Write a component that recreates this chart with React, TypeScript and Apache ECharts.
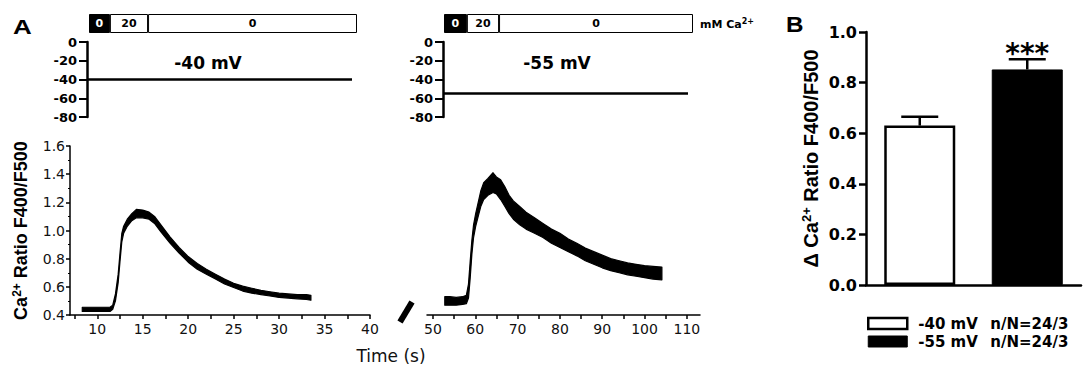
import React, { useEffect, useRef } from 'react';
import * as echarts from 'echarts';

const SANS = '"Liberation Sans", Arial, Helvetica, sans-serif';
const WIDE = '"DejaVu Sans", "Liberation Sans", Arial, sans-serif';

// Panel A, trace at -40 mV: time (s), lower and upper edge of the noisy ratio trace
const traceLTime = [8.35, 9.5, 10.5, 11.4, 11.7, 12.0, 12.3, 12.5, 12.7, 12.9, 13.3, 13.8, 14.3, 15.0, 15.7, 16.3, 17.0, 18.0, 19.0, 20.0, 21.0, 22.0, 23.0, 24.0, 25.0, 26.0, 27.0, 28.0, 29.0, 30.0, 31.0, 32.0, 33.0, 33.5];
const traceLLow = [0.425, 0.425, 0.425, 0.425, 0.44, 0.5, 0.63, 0.78, 0.92, 0.98, 1.03, 1.07, 1.09, 1.09, 1.08, 1.05, 0.99, 0.91, 0.84, 0.775, 0.725, 0.69, 0.655, 0.62, 0.595, 0.57, 0.555, 0.545, 0.535, 0.525, 0.52, 0.515, 0.51, 0.505];
const traceLHigh = [0.455, 0.455, 0.455, 0.455, 0.47, 0.55, 0.69, 0.84, 0.98, 1.03, 1.08, 1.12, 1.15, 1.145, 1.13, 1.1, 1.04, 0.955, 0.88, 0.815, 0.765, 0.725, 0.69, 0.655, 0.625, 0.605, 0.59, 0.575, 0.565, 0.555, 0.55, 0.545, 0.545, 0.54];

// Panel A, trace at -55 mV
const traceRTime = [52.8, 54, 55.5, 57, 57.9, 58.4, 58.8, 59.2, 59.6, 60.1, 60.7, 61.3, 62.0, 63.0, 64.2, 65.0, 66.0, 67.0, 68.0, 69.0, 70.5, 72.0, 74.0, 76.0, 78.0, 80.0, 82.0, 84.0, 86.0, 88.0, 90.0, 92.0, 94.0, 96.0, 98.0, 100.0, 102.0, 104.1];
const traceRLow = [0.47, 0.47, 0.47, 0.475, 0.48, 0.52, 0.66, 0.83, 0.95, 1.03, 1.1, 1.17, 1.22, 1.25, 1.27, 1.26, 1.22, 1.17, 1.12, 1.08, 1.04, 1.01, 0.98, 0.95, 0.91, 0.88, 0.85, 0.82, 0.785, 0.76, 0.735, 0.715, 0.7, 0.685, 0.675, 0.665, 0.655, 0.65];
const traceRHigh = [0.53, 0.53, 0.525, 0.53, 0.54, 0.62, 0.78, 0.93, 1.04, 1.12, 1.2, 1.28, 1.34, 1.37, 1.41, 1.38, 1.36, 1.31, 1.25, 1.21, 1.17, 1.13, 1.09, 1.05, 1.01, 0.98, 0.94, 0.91, 0.875, 0.85, 0.825, 0.8, 0.785, 0.77, 0.76, 0.75, 0.745, 0.74];

// Axis ticks and labels
const timeTicksL = [7.5, 10, 12.5, 15, 17.5, 20, 22.5, 25, 27.5, 30, 32.5, 35, 37.5, 40];
const timeLabelsL = [10, 15, 20, 25, 30, 35, 40];
const timeTicksR = [50, 55, 60, 65, 70, 75, 80, 85, 90, 95, 100, 105, 110];
const timeLabelsR = [50, 60, 70, 80, 90, 100, 110];

// Voltage protocol
const holdingPotentials = [-40, -55];
const holdDurations = [29.2, 57.9]; // s
const protocolLabels = ['0', '20', '0'];
const protocolL = [2.3, 4.2, 23.0]; // s in each solution
const protocolR = [5.4, 7.6, 45.8];

// Panel B
const barCategories = ['-40 mV', '-55 mV'];
const barMeans = [0.63, 0.852];
const barSem = [0.035, 0.04];
const barSignificance = ['', '***'];
const barN = ['n/N=24/3', 'n/N=24/3'];

function buildOption() {
  const protocolSeries = (vals: number[], idx: number, stack: string) =>
    vals.map((v, i) => ({
      type: 'bar',
      xAxisIndex: idx,
      yAxisIndex: idx,
      stack,
      data: [v],
      barWidth: 19,
      silent: true,
      itemStyle: { color: i === 0 ? '#000' : '#fff', borderColor: '#000', borderWidth: 1 },
      label: {
        show: true,
        position: 'inside',
        formatter: protocolLabels[i],
        color: i === 0 ? '#fff' : '#000',
        fontWeight: 'bold',
        fontSize: 11,
        fontFamily: WIDE,
      },
    }));

  const traceSeries = (t: number[], lo: number[], hi: number[], idx: number) => ({
    type: 'custom',
    xAxisIndex: idx,
    yAxisIndex: idx,
    silent: true,
    data: t.map((x, i) => [x, lo[i], hi[i]]),
    encode: { x: 0, y: [1, 2] },
    renderItem: (params: any, api: any) => {
      if (params.dataIndex !== 0) return null;
      const top = t.map((x, i) => api.coord([x, hi[i]]));
      const bot = t.map((x, i) => api.coord([x, lo[i]])).reverse();
      return {
        type: 'polygon',
        shape: { points: top.concat(bot) },
        style: { fill: '#000', stroke: '#000', lineWidth: 1.2, lineJoin: 'round' },
      };
    },
  });

  const voltAxis = (grid: number) => ({
    type: 'value',
    gridIndex: grid,
    min: -80,
    max: 0,
    interval: 20,
    axisLine: { show: true, onZero: false, lineStyle: { color: '#000', width: 2.5 } },
    axisTick: { show: true, length: 8, lineStyle: { color: '#000', width: 2 } },
    axisLabel: { fontSize: 13, fontWeight: 'bold', color: '#000', fontFamily: WIDE, margin: 10 },
    splitLine: { show: false },
  });

  return {
    animation: false,
    textStyle: { fontFamily: SANS },
    grid: [
      { left: 70, top: 146, width: 300, height: 169 },
      { left: 427, top: 146, width: 273, height: 169 },
      { left: 87, top: 42, width: 265, height: 75 },
      { left: 443, top: 42, width: 245, height: 75 },
      { left: 89, top: 14, width: 268, height: 19 },
      { left: 444, top: 14, width: 249, height: 19 },
      { left: 866, top: 32, width: 215, height: 253 },
    ],
    xAxis: [
      {
        type: 'value', gridIndex: 0, min: 7, max: 40,
        axisLine: { onZero: false, lineStyle: { color: '#000', width: 1.5 } },
        axisTick: { customValues: timeTicksL, length: 4, lineStyle: { color: '#000', width: 1.5 } },
        axisLabel: { customValues: timeLabelsL, fontSize: 14, color: '#111', fontFamily: WIDE, margin: 7 },
        splitLine: { show: false },
      },
      {
        type: 'value', gridIndex: 1, min: 48.6, max: 113.1,
        axisLine: { onZero: false, lineStyle: { color: '#000', width: 1.5 } },
        axisTick: { customValues: timeTicksR, length: 4, lineStyle: { color: '#000', width: 1.5 } },
        axisLabel: { customValues: timeLabelsR, fontSize: 14, color: '#111', fontFamily: WIDE, margin: 7 },
        splitLine: { show: false },
      },
      { type: 'value', gridIndex: 2, min: 0, max: holdDurations[0], show: false },
      { type: 'value', gridIndex: 3, min: 0, max: holdDurations[1], show: false },
      { type: 'value', gridIndex: 4, min: 0, max: protocolL.reduce((a, b) => a + b, 0), show: false },
      { type: 'value', gridIndex: 5, min: 0, max: protocolR.reduce((a, b) => a + b, 0), show: false },
      {
        type: 'category', gridIndex: 6, data: barCategories,
        axisLine: { onZero: false, lineStyle: { color: '#000', width: 2.5 } },
        axisTick: { show: false },
        axisLabel: { show: false },
      },
    ],
    yAxis: [
      {
        type: 'value', gridIndex: 0, min: 0.4, max: 1.6, interval: 0.2,
        axisLine: { show: true, onZero: false, lineStyle: { color: '#000', width: 1.5 } },
        axisTick: { show: true, length: 4, lineStyle: { color: '#000', width: 1.5 } },
        minorTick: { show: true, splitNumber: 2, length: 2, lineStyle: { color: '#000', width: 1 } },
        axisLabel: { fontSize: 14, color: '#111', fontFamily: WIDE, margin: 5, formatter: (v: number) => v.toFixed(1) },
        splitLine: { show: false },
        name: '{b|Ca}{s|2+}{b| Ratio F400/F500}',
        nameLocation: 'middle',
        nameGap: 40,
        nameTextStyle: {
          rich: {
            b: { fontSize: 18, fontWeight: 'bold', fontFamily: SANS, color: '#000' },
            s: { fontSize: 12, fontWeight: 'bold', fontFamily: SANS, color: '#000', padding: [0, 0, 7, 0] },
          },
        },
      },
      { type: 'value', gridIndex: 1, min: 0.4, max: 1.6, show: false },
      voltAxis(2),
      voltAxis(3),
      { type: 'category', gridIndex: 4, data: ['p'], show: false },
      { type: 'category', gridIndex: 5, data: ['p'], show: false },
      {
        type: 'value', gridIndex: 6, min: 0, max: 1, interval: 0.2,
        axisLine: { show: true, onZero: false, lineStyle: { color: '#000', width: 2.5 } },
        axisTick: { show: true, length: 7, lineStyle: { color: '#000', width: 2.5 } },
        axisLabel: { fontSize: 16, fontWeight: 'bold', color: '#000', fontFamily: WIDE, margin: 9, formatter: (v: number) => v.toFixed(1) },
        splitLine: { show: false },
        name: '{b|\u0394 Ca}{s|2+}{b| Ratio F400/F500}',
        nameLocation: 'middle',
        nameGap: 45,
        nameTextStyle: {
          rich: {
            b: { fontSize: 20, fontWeight: 'bold', fontFamily: SANS, color: '#000' },
            s: { fontSize: 13, fontWeight: 'bold', fontFamily: SANS, color: '#000', padding: [0, 0, 8, 0] },
          },
        },
      },
    ],
    legend: {
      orient: 'vertical',
      left: 867,
      top: 316,
      padding: 0,
      itemWidth: 39,
      itemHeight: 11,
      itemGap: 3,
      icon: 'rect',
      selectedMode: false,
      data: [
        { name: barCategories[0], itemStyle: { color: '#fff', borderColor: '#000', borderWidth: 2.5 } },
        { name: barCategories[1], itemStyle: { color: '#000', borderColor: '#000', borderWidth: 1 } },
      ],
      formatter: (name: string) => `{a|${name}}{b|${barN[barCategories.indexOf(name)]}}`,
      textStyle: {
        padding: [0, 0, 0, 6],
        rich: {
          a: { width: 72, fontSize: 15, fontWeight: 'bold', fontFamily: WIDE, color: '#000' },
          b: { fontSize: 15, fontWeight: 'bold', fontFamily: WIDE, color: '#000' },
        },
      },
    },
    series: [
      traceSeries(traceLTime, traceLLow, traceLHigh, 0),
      traceSeries(traceRTime, traceRLow, traceRHigh, 1),
      {
        type: 'line', xAxisIndex: 2, yAxisIndex: 2, symbol: 'none', silent: true,
        data: [[0, holdingPotentials[0]], [holdDurations[0], holdingPotentials[0]]],
        lineStyle: { color: '#000', width: 2.5 },
      },
      {
        type: 'line', xAxisIndex: 3, yAxisIndex: 3, symbol: 'none', silent: true,
        data: [[0, holdingPotentials[1]], [holdDurations[1], holdingPotentials[1]]],
        lineStyle: { color: '#000', width: 2.5 },
      },
      ...protocolSeries(protocolL, 4, 'pl'),
      ...protocolSeries(protocolR, 5, 'pr'),
      {
        name: barCategories[0], type: 'bar', xAxisIndex: 6, yAxisIndex: 6,
        data: [barMeans[0], '-'], barWidth: 71, barGap: '-100%', silent: true,
        itemStyle: { color: '#fff', borderColor: '#000', borderWidth: 2.5 },
      },
      {
        name: barCategories[1], type: 'bar', xAxisIndex: 6, yAxisIndex: 6,
        data: ['-', barMeans[1]], barWidth: 71, barGap: '-100%', silent: true,
        itemStyle: { color: '#000', borderColor: '#000', borderWidth: 1 },
      },
      {
        type: 'custom', xAxisIndex: 6, yAxisIndex: 6, silent: true,
        data: barMeans.map((m, i) => [i, m, m + barSem[i]]),
        renderItem: (params: any, api: any) => {
          const x = api.value(0);
          const lo = api.coord([x, api.value(1)]);
          const hi = api.coord([x, api.value(2)]);
          const half = 18.5;
          const children: any[] = [
            { type: 'line', shape: { x1: lo[0], y1: lo[1], x2: hi[0], y2: hi[1] }, style: { stroke: '#000', lineWidth: 2.5 } },
            { type: 'line', shape: { x1: hi[0] - half, y1: hi[1], x2: hi[0] + half, y2: hi[1] }, style: { stroke: '#000', lineWidth: 2.5 } },
          ];
          const sig = barSignificance[params.dataIndex];
          if (sig) {
            children.push({
              type: 'text',
              x: hi[0],
              y: hi[1] + 8,
              style: { text: sig, fill: '#000', font: `bold 28px ${WIDE}`, align: 'center', verticalAlign: 'bottom', textAlign: 'center', textVerticalAlign: 'bottom' },
            });
          }
          return { type: 'group', children };
        },
      },
    ],
    graphic: [
      { type: 'text', x: 13, y: 17, style: { text: 'A', font: `bold 20px ${SANS}`, fill: '#000' }, scaleX: 1.3 },
      { type: 'text', x: 786, y: 13, style: { text: 'B', font: `bold 22px ${SANS}`, fill: '#000' }, scaleX: 1.1 },
      { type: 'text', x: 208, y: 63, style: { text: '-40 mV', font: `bold 17px ${WIDE}`, fill: '#000', align: 'center', verticalAlign: 'middle', textAlign: 'center', textVerticalAlign: 'middle' } },
      { type: 'text', x: 557, y: 63, style: { text: '-55 mV', font: `bold 17px ${WIDE}`, fill: '#000', align: 'center', verticalAlign: 'middle', textAlign: 'center', textVerticalAlign: 'middle' } },
      {
        type: 'text', x: 700, y: 24,
        style: {
          text: '{m|mM Ca}{s|2+}',
          verticalAlign: 'middle', textVerticalAlign: 'middle',
          rich: {
            m: { font: `bold 11px ${WIDE}`, fill: '#000' },
            s: { font: `bold 8px ${WIDE}`, fill: '#000', padding: [0, 0, 6, 0] },
          },
        },
      },
      { type: 'text', x: 391, y: 356, style: { text: 'Time (s)', font: `17px ${WIDE}`, fill: '#111', align: 'center', verticalAlign: 'middle', textAlign: 'center', textVerticalAlign: 'middle' } },
      { type: 'line', shape: { x1: 400, y1: 322, x2: 412, y2: 302 }, style: { stroke: '#000', lineWidth: 6 } },
    ],
  };
}

export default function App() {
  const ref = useRef<HTMLDivElement>(null);
  useEffect(() => {
    if (!ref.current) return;
    const chart = echarts.init(ref.current, null, { renderer: 'svg' });
    chart.setOption(buildOption() as any);
    return () => chart.dispose();
  }, []);
  return <div ref={ref} style={{ position: 'absolute', left: 0, top: 0, width: 1089, height: 366, background: '#fff' }} />;
}
